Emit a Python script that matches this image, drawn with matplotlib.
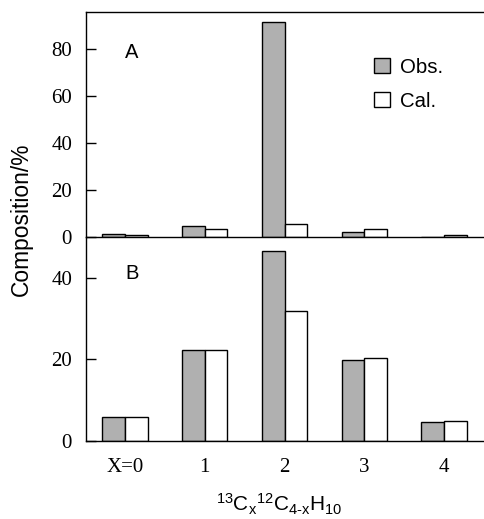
import matplotlib.pyplot as plt
import matplotlib as mpl
from matplotlib.patches import Patch
import numpy as np

mpl.rcParams["mathtext.fontset"] = "custom"
mpl.rcParams["mathtext.rm"] = "Liberation Sans"
mpl.rcParams["mathtext.it"] = "Liberation Sans"

x_labels = ["X=0", "1", "2", "3", "4"]
obs_a = [1.2, 4.7, 91.4, 2.0, 0.0]
cal_a = [0.7, 3.5, 5.4, 3.5, 0.7]
obs_b = [5.9, 22.3, 46.5, 19.8, 4.6]
cal_b = [6.0, 22.3, 31.8, 20.3, 5.0]

SERIF = "Liberation Serif"
SANS = "Liberation Sans"
OBS_COLOR = "#b0b0b0"

fig = plt.figure(figsize=(4.84, 5.19), dpi=100)
ax_a = fig.add_axes([0.1777, 0.5434, 0.8223, 0.4335])
ax_b = fig.add_axes([0.1777, 0.1503, 0.8223, 0.3931])
ax_a.set_zorder(2)
ax_a.patch.set_visible(False)

x = np.arange(len(x_labels))
w = 0.284


def draw_panel(ax, obs, cal, ylim, yticks):
    ax.bar(x - w / 2, obs, w, color=OBS_COLOR, edgecolor="black", linewidth=1.0)
    ax.bar(x + w / 2, cal, w, color="white", edgecolor="black", linewidth=1.0)
    ax.set_xlim(-0.49, 4.5)
    ax.set_ylim(*ylim)
    ax.set_yticks(yticks)
    ax.set_yticklabels([str(t) for t in yticks], family=SERIF, fontsize=15)
    ax.tick_params(axis="y", direction="in", length=7, width=1, pad=10)
    ax.spines["right"].set_visible(False)
    for s in ax.spines.values():
        s.set_linewidth(1.0)


draw_panel(ax_a, obs_a, cal_a, (0, 95.7), [0, 20, 40, 60, 80])
ax_a.set_xticks([])
ax_a.text(0.098, 0.818, "A", transform=ax_a.transAxes, va="center",
          family=SANS, fontsize=14.5)
handles = [Patch(facecolor=OBS_COLOR, edgecolor="black", label="Obs."),
           Patch(facecolor="white", edgecolor="black", label="Cal.")]
ax_a.legend(handles=handles, loc="upper left", bbox_to_anchor=(0.678, 0.877),
            frameon=False, prop={"family": SANS, "size": 14.7},
            handlelength=0.75, handleheight=0.75, handletextpad=0.5,
            labelspacing=0.72, borderpad=0.4)

draw_panel(ax_b, obs_b, cal_b, (0, 50), [0, 20, 40])
ax_b.spines["top"].set_visible(False)
ax_b.set_xticks(x)
ax_b.set_xticklabels(x_labels, family=SERIF, fontsize=15)
ax_b.tick_params(axis="x", length=0, pad=12)
ax_b.text(0.098, 0.821, "B", transform=ax_b.transAxes, va="center",
          family=SANS, fontsize=14.5)

fig.text(0.5775, 0.0135,
         r"$^{13}$C$_{\mathrm{x}}$$^{12}$C$_{4\text{-}\mathrm{x}}$H$_{10}$",
         ha="center", va="baseline", family=SANS, fontsize=15)
fig.text(0.045, 0.578, "Composition/%", rotation=90, va="center", ha="center",
         family=SANS, fontsize=16.4)

fig.savefig("out.png", dpi=100)
